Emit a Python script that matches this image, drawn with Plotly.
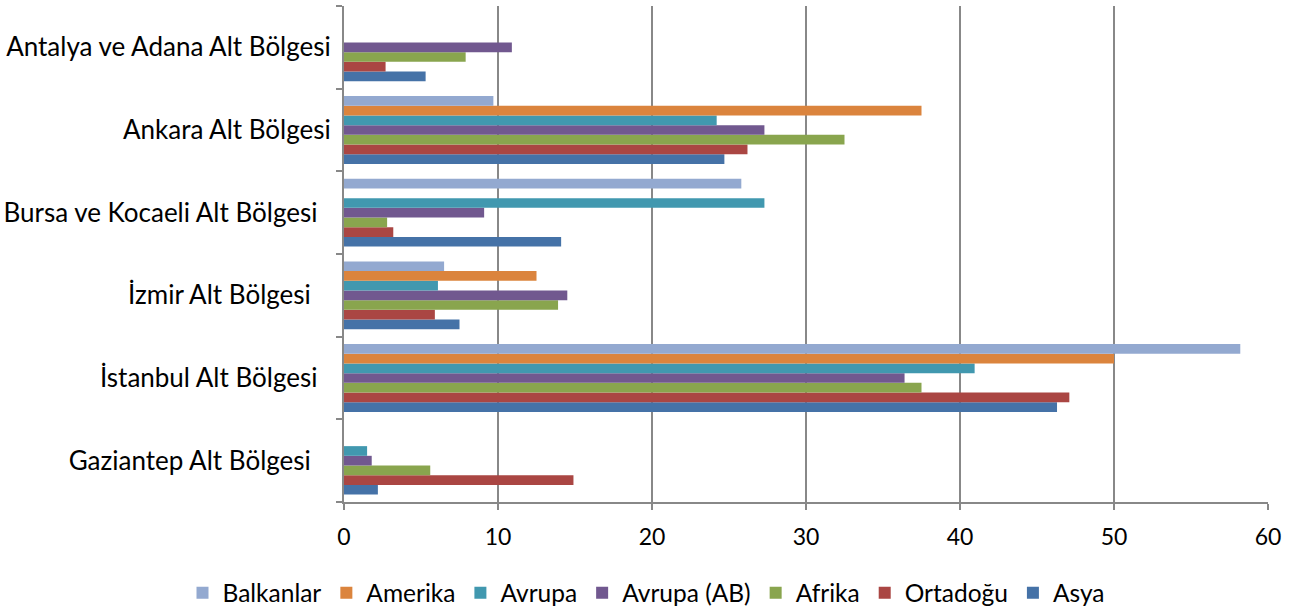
import plotly.graph_objects as go

categories = ["Gaziantep Alt Bölgesi", "İstanbul Alt Bölgesi", "İzmir Alt Bölgesi",
              "Bursa ve Kocaeli Alt Bölgesi", "Ankara Alt Bölgesi", "Antalya ve Adana Alt Bölgesi"]
tick_text = ["Gaziantep Alt Bölgesi\u00a0\u00a0\u00a0", "İstanbul Alt Bölgesi\u00a0\u00a0",
             "İzmir Alt Bölgesi\u00a0\u00a0\u00a0", "Bursa ve Kocaeli Alt Bölgesi\u00a0\u00a0",
             "Ankara Alt Bölgesi", "Antalya ve Adana Alt Bölgesi"]
x_ticks = [0, 10, 20, 30, 40, 50, 60]

asya = [2.2, 46.3, 7.5, 14.1, 24.7, 5.3]
ortadogu = [14.9, 47.1, 5.9, 3.2, 26.2, 2.7]
afrika = [5.6, 37.5, 13.9, 2.8, 32.5, 7.9]
avrupa_ab = [1.8, 36.4, 14.5, 9.1, 27.3, 10.9]
avrupa = [1.5, 40.95, 6.1, 27.3, 24.2, 0]
amerika = [0, 50.0, 12.5, 0, 37.5, 0]
balkanlar = [0, 58.2, 6.5, 25.8, 9.7, 0]

series = [
    ("Asya", asya, "#4572A7"),
    ("Ortadoğu", ortadogu, "#AA4643"),
    ("Afrika", afrika, "#89A54E"),
    ("Avrupa (AB)", avrupa_ab, "#71588F"),
    ("Avrupa", avrupa, "#4198AF"),
    ("Amerika", amerika, "#DB843D"),
    ("Balkanlar", balkanlar, "#93A9D0"),
]

fig = go.Figure()
for name, vals, color in series:
    fig.add_trace(go.Bar(y=categories, x=vals, name=name, orientation="h",
                         marker=dict(color=color, line=dict(width=0))))

font = "Lato, 'Open Sans', sans-serif"
fig.update_layout(
    width=1292, height=613,
    margin=dict(l=344, r=24, t=6, b=111),
    paper_bgcolor="white", plot_bgcolor="white",
    barmode="group", bargap=0.18, bargroupgap=0,
    font=dict(family=font, size=24, color="#000000"),
    showlegend=True,
    legend=dict(orientation="h", traceorder="reversed", xref="container", yref="container",
                x=0.5, xanchor="center", y=0.033, yanchor="middle",
                font=dict(size=24.5), itemwidth=30),
    xaxis=dict(range=[0, 60], tickvals=x_ticks, automargin=False,
               showgrid=True, gridcolor="#888888", gridwidth=2,
               showline=True, linecolor="#888888", linewidth=2,
               ticks="outside", ticklen=6, tickcolor="#888888", tickwidth=2,
               tickfont=dict(size=23),
               ticklabelstandoff=7, zeroline=False, fixedrange=True),
    yaxis=dict(tickmode="array", tickvals=categories, ticktext=tick_text, automargin=False,
               showgrid=False, showline=True, linecolor="#888888", linewidth=2,
               ticks="outside", ticklen=6, tickcolor="#888888", tickwidth=2,
               tickfont=dict(size=26),
               tickson="boundaries", ticklabelstandoff=6, fixedrange=True),
)

fig.write_html("out.html", post_script="document.body.style.margin='0';",
               config={"displayModeBar": False})
